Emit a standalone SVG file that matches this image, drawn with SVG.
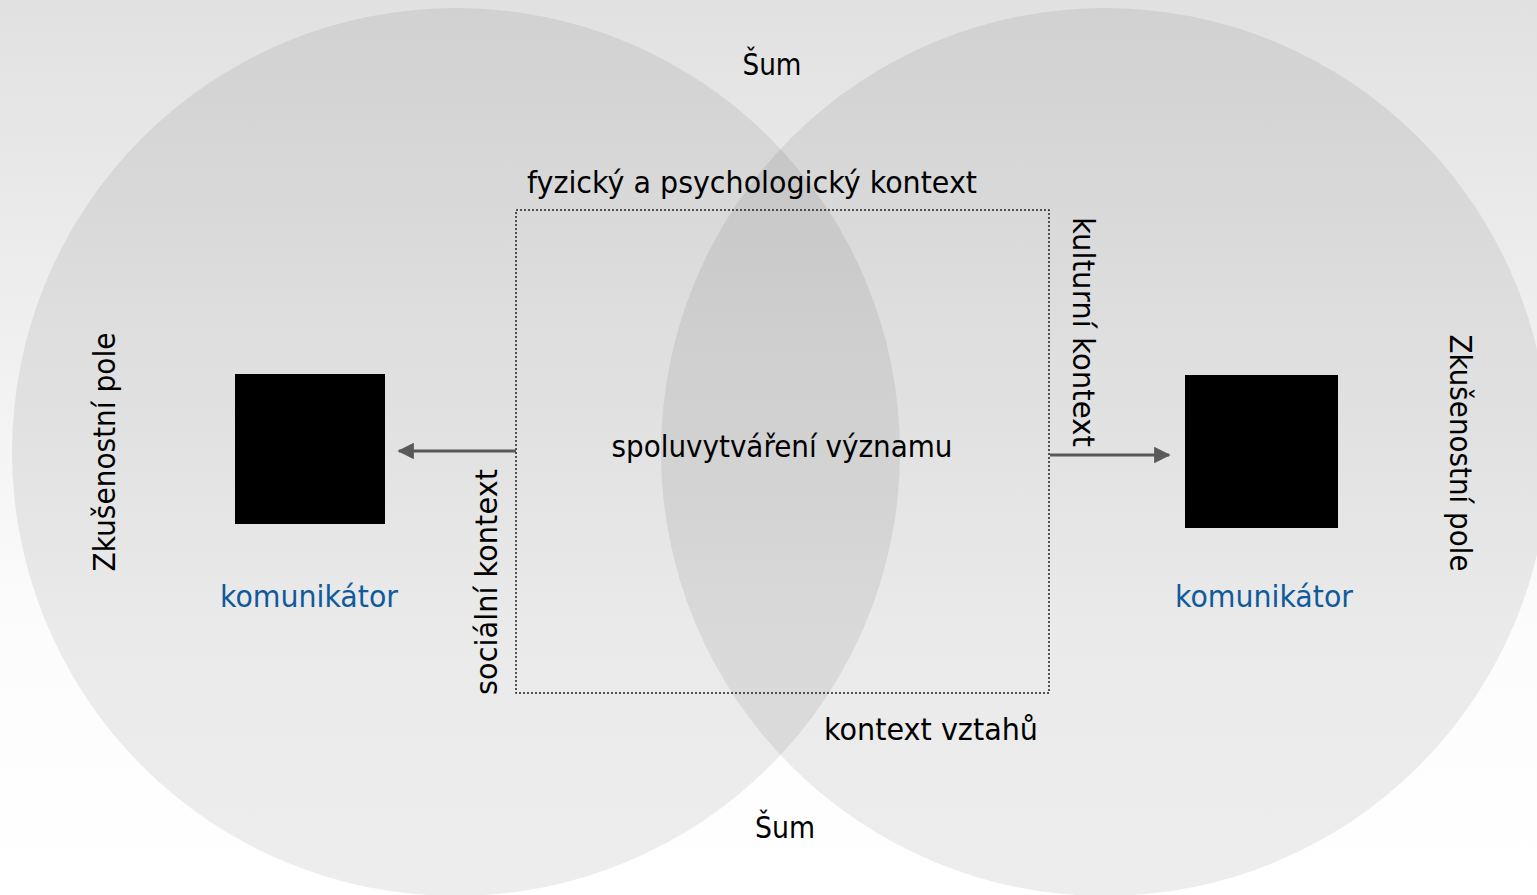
<svg xmlns="http://www.w3.org/2000/svg" width="1537" height="895" viewBox="0 0 1537 895">
  <defs>
    <linearGradient id="bg" x1="0" y1="0" x2="0" y2="1">
      <stop offset="0" stop-color="#e1e1e1"/>
      <stop offset="0.7" stop-color="#fcfcfc"/>
      <stop offset="1" stop-color="#ffffff"/>
    </linearGradient>
    <marker id="arrow" viewBox="0 0 10 10" refX="9" refY="5" markerWidth="5.5" markerHeight="5.5" orient="auto" markerUnits="strokeWidth">
      <path d="M0,0 L10,5 L0,10 z" fill="#595959"/>
    </marker>
    <style>
      text { font-family: "DejaVu Sans", "Liberation Sans", sans-serif; font-size: 31px; fill: #000; }
      .blue { fill: #0f5a9c; }
      .field { fill: #000; fill-opacity: 0.07; }
      .conn { stroke: #595959; stroke-width: 3; fill: none; marker-end: url(#arrow); }
      .sq { fill: #000; }
    </style>
  </defs>
  <rect x="0" y="0" width="1537" height="895" fill="url(#bg)"/>

  <g id="field-left">
    <circle class="field" cx="456" cy="452" r="444"/>
    <text transform="translate(115,452) rotate(-90)" text-anchor="middle" textLength="239" lengthAdjust="spacingAndGlyphs">Zkušenostní pole</text>
  </g>
  <g id="field-right">
    <circle class="field" cx="1105" cy="452" r="444"/>
    <text transform="translate(1450,453) rotate(90)" text-anchor="middle" textLength="237" lengthAdjust="spacingAndGlyphs">Zkušenostní pole</text>
  </g>

  <g id="noise-top"><text x="772" y="75" text-anchor="middle" textLength="59" lengthAdjust="spacingAndGlyphs">Šum</text></g>
  <g id="noise-bottom"><text x="785" y="838" text-anchor="middle" textLength="60" lengthAdjust="spacingAndGlyphs">Šum</text></g>

  <g id="context">
    <rect x="516" y="210" width="533" height="483" fill="none" stroke="#222" stroke-width="1.5" stroke-dasharray="2,2"/>
    <text x="752" y="193" text-anchor="middle" textLength="450" lengthAdjust="spacingAndGlyphs">fyzický a psychologický kontext</text>
    <text x="782" y="457" text-anchor="middle" textLength="341" lengthAdjust="spacingAndGlyphs">spoluvytváření významu</text>
    <text transform="translate(497,582) rotate(-90)" text-anchor="middle" textLength="226" lengthAdjust="spacingAndGlyphs">sociální kontext</text>
    <text transform="translate(1073,332) rotate(90)" text-anchor="middle" textLength="230" lengthAdjust="spacingAndGlyphs">kulturní kontext</text>
    <text x="931" y="740" text-anchor="middle" textLength="214" lengthAdjust="spacingAndGlyphs">kontext vztahů</text>
  </g>

  <g id="communicator-left">
    <rect class="sq" x="235" y="374" width="150" height="150"/>
    <text class="blue" x="309" y="607" text-anchor="middle" textLength="178" lengthAdjust="spacingAndGlyphs">komunikátor</text>
  </g>
  <g id="communicator-right">
    <rect class="sq" x="1185" y="375" width="153" height="153"/>
    <text class="blue" x="1264" y="607" text-anchor="middle" textLength="178" lengthAdjust="spacingAndGlyphs">komunikátor</text>
  </g>

  <g id="connectors">
    <line class="conn" x1="516" y1="451" x2="399" y2="451"/>
    <line class="conn" x1="1050" y1="455" x2="1169" y2="455"/>
  </g>
</svg>
